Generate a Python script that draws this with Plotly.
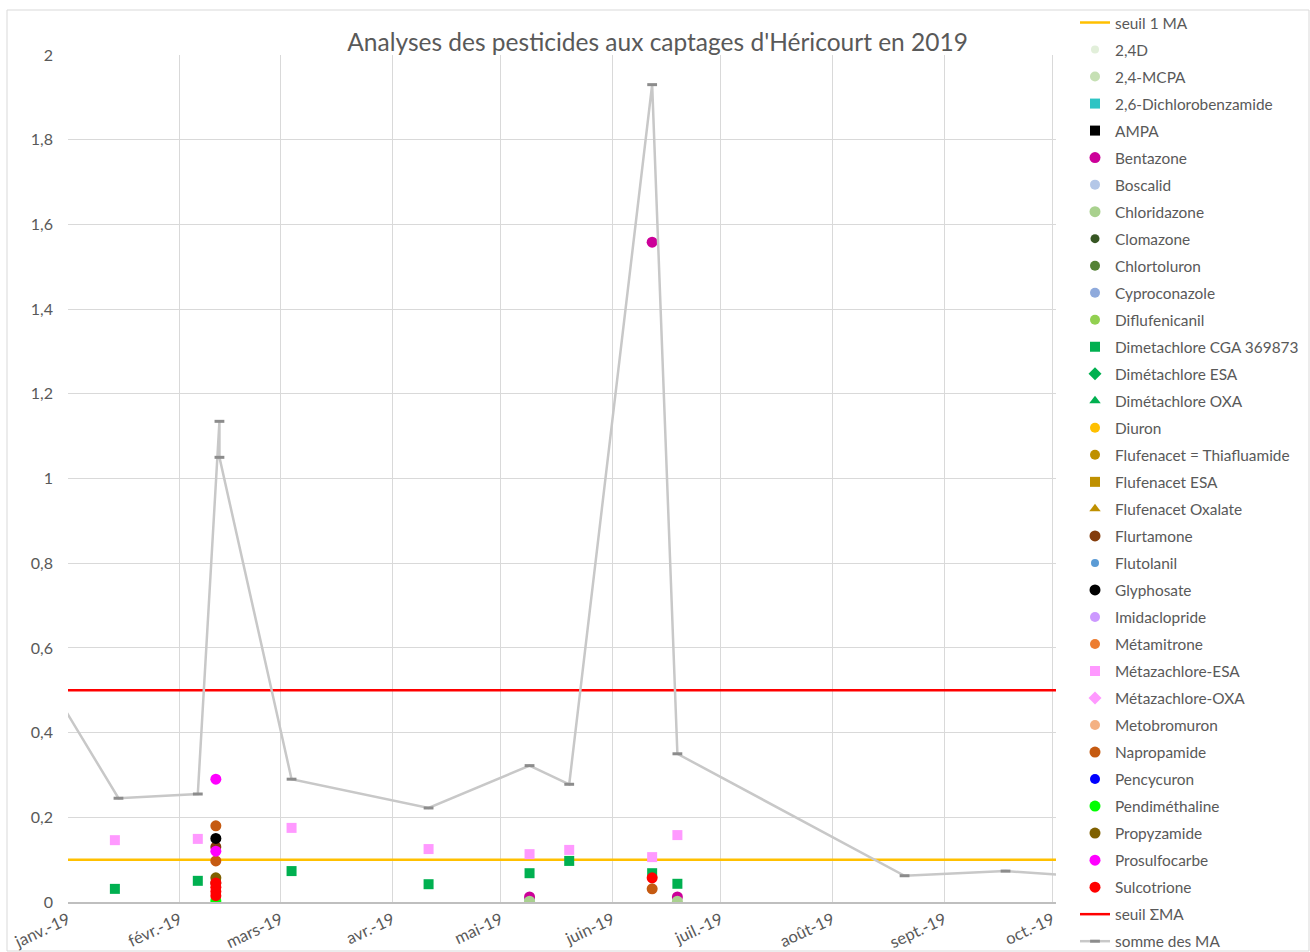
import plotly.graph_objects as go

# ---------------- data ----------------
month_ticks = ["2019-01-01", "2019-02-01", "2019-03-01", "2019-04-01", "2019-05-01",
               "2019-06-01", "2019-07-01", "2019-08-01", "2019-09-01", "2019-10-01"]
month_labels = ["janv.-19", "févr.-19", "mars-19", "avr.-19", "mai-19",
                "juin-19", "juil.-19", "août-19", "sept.-19", "oct.-19"]
x_range = ["2019-01-01", "2019-10-02"]

seuil_1ma = 0.1
seuil_sigma = 0.5

sum_dates = ["2018-12-18", "2019-01-15", "2019-02-06", "2019-02-12", "2019-02-12",
             "2019-03-04", "2019-04-11", "2019-05-09", "2019-05-20", "2019-06-12",
             "2019-06-19", "2019-08-21", "2019-09-18", "2019-10-15"]
sum_values = [0.64, 0.245, 0.255, 1.135, 1.05, 0.29, 0.222, 0.322, 0.278, 1.93,
              0.35, 0.062, 0.073, 0.057]

bentazone_dates = ["2019-05-09", "2019-06-12", "2019-06-19"]
bentazone_values = [0.012, 1.558, 0.012]

chloridazone_dates = ["2019-05-09", "2019-06-19"]
chloridazone_values = [0.002, 0.002]

dichlorobenzamide_dates = ["2019-05-09"]
dichlorobenzamide_values = [0.0]

dimetachlore_cga_dates = ["2019-01-14", "2019-02-06", "2019-03-04", "2019-04-11",
                          "2019-05-09", "2019-05-20", "2019-06-12", "2019-06-19"]
dimetachlore_cga_values = [0.031, 0.05, 0.073, 0.042, 0.068, 0.097, 0.068, 0.043]

metazachlore_esa_dates = ["2019-01-14", "2019-02-06", "2019-03-04", "2019-04-11",
                          "2019-05-09", "2019-05-20", "2019-06-12", "2019-06-19"]
metazachlore_esa_values = [0.146, 0.149, 0.175, 0.125, 0.113, 0.123, 0.106, 0.158]

flurtamone_dates = ["2019-02-11", "2019-02-11"]
flurtamone_values = [0.13, 0.045]

glyphosate_dates = ["2019-02-11"]
glyphosate_values = [0.15]

napropamide_dates = ["2019-02-11", "2019-02-11", "2019-06-12"]
napropamide_values = [0.18, 0.097, 0.031]

pendimethaline_dates = ["2019-02-11"]
pendimethaline_values = [0.003]

propyzamide_dates = ["2019-02-11"]
propyzamide_values = [0.057]

prosulfocarbe_dates = ["2019-02-11", "2019-02-11"]
prosulfocarbe_values = [0.29, 0.12]

sulcotrione_dates = ["2019-02-11", "2019-02-11", "2019-02-11", "2019-02-11", "2019-06-12"]
sulcotrione_values = [0.045, 0.035, 0.025, 0.015, 0.057]

# substance legend: name, colour, symbol, size, dates, values
substances = [
    ("2,4D", "#E2EFDA", "circle", 8, [], []),
    ("2,4-MCPA", "#C6E0B4", "circle", 10, [], []),
    ("2,6-Dichlorobenzamide", "#2EC4C4", "square", 10, dichlorobenzamide_dates, dichlorobenzamide_values),
    ("AMPA", "#000000", "square", 10, [], []),
    ("Bentazone", "#CC0099", "circle", 11, bentazone_dates, bentazone_values),
    ("Boscalid", "#B4C7E7", "circle", 10, [], []),
    ("Chloridazone", "#A9D18E", "circle", 11, chloridazone_dates, chloridazone_values),
    ("Clomazone", "#375623", "circle", 9, [], []),
    ("Chlortoluron", "#548235", "circle", 10, [], []),
    ("Cyproconazole", "#8FAADC", "circle", 10, [], []),
    ("Diflufenicanil", "#92D050", "circle", 10, [], []),
    ("Dimetachlore CGA 369873", "#00B050", "square", 10, dimetachlore_cga_dates, dimetachlore_cga_values),
    ("Dimétachlore ESA", "#00B050", "diamond", 10, [], []),
    ("Dimétachlore OXA", "#00B050", "triangle-up", 10, [], []),
    ("Diuron", "#FFC000", "circle", 10, [], []),
    ("Flufenacet = Thiafluamide", "#BF9000", "circle", 10, [], []),
    ("Flufenacet ESA", "#BF9000", "square", 10, [], []),
    ("Flufenacet Oxalate", "#BF9000", "triangle-up", 10, [], []),
    ("Flurtamone", "#843C0C", "circle", 11, flurtamone_dates, flurtamone_values),
    ("Flutolanil", "#5B9BD5", "circle", 8, [], []),
    ("Glyphosate", "#000000", "circle", 11, glyphosate_dates, glyphosate_values),
    ("Imidaclopride", "#CC99FF", "circle", 10, [], []),
    ("Métamitrone", "#ED7D31", "circle", 10, [], []),
    ("Métazachlore-ESA", "#FF99FF", "square", 10, metazachlore_esa_dates, metazachlore_esa_values),
    ("Métazachlore-OXA", "#FF99FF", "diamond", 10, [], []),
    ("Metobromuron", "#F4B183", "circle", 10, [], []),
    ("Napropamide", "#C55A11", "circle", 11, napropamide_dates, napropamide_values),
    ("Pencycuron", "#0000FF", "circle", 10, [], []),
    ("Pendiméthaline", "#00FF00", "circle", 11, pendimethaline_dates, pendimethaline_values),
    ("Propyzamide", "#7F6000", "circle", 11, propyzamide_dates, propyzamide_values),
    ("Prosulfocarbe", "#FF00FF", "circle", 11, prosulfocarbe_dates, prosulfocarbe_values),
    ("Sulcotrione", "#FF0000", "circle", 11, sulcotrione_dates, sulcotrione_values),
]

FONT = "Lato"
GRAY_TXT = "#595959"

fig = go.Figure()

fig.add_trace(go.Scatter(
    x=x_range, y=[seuil_1ma, seuil_1ma], mode="lines", name="seuil 1 MA",
    legendgroup="seuil 1 MA", line=dict(color="#FFC000", width=2.5), hoverinfo="skip"))

for name, color, symbol, size, dates, values in substances:
    xs = dates if dates else [x_range[0]]
    ys = values if values else [None]
    fig.add_trace(go.Scatter(
        x=xs, y=ys, mode="markers", name=name, legendgroup=name,
        marker=dict(color=color, symbol=symbol, size=size, line=dict(width=0))))

fig.add_trace(go.Scatter(
    x=x_range, y=[seuil_sigma, seuil_sigma], mode="lines", name="seuil ΣMA",
    legendgroup="seuil ΣMA", line=dict(color="#FF0000", width=2.5), hoverinfo="skip"))

fig.add_trace(go.Scatter(
    x=sum_dates, y=sum_values, mode="lines+markers", name="somme des MA",
    legendgroup="somme des MA", line=dict(color="#C8C8C8", width=2.5),
    marker=dict(symbol="line-ew", size=7, line=dict(color="#8C8C8C", width=3))))

plot_l, plot_r, plot_t, plot_b = 68, 1056, 55, 902
W, H = 1310, 952
pw, ph = plot_r - plot_l, plot_b - plot_t

fig.update_layout(
    width=W, height=H,
    margin=dict(l=plot_l, r=W - plot_r, t=plot_t, b=H - plot_b, pad=0, autoexpand=False),
    paper_bgcolor="white", plot_bgcolor="white",
    separators=", ",
    font=dict(family=FONT, color=GRAY_TXT, size=16),
    title=dict(text="Analyses des pesticides aux captages d'Héricourt en 2019",
               x=0.502, xanchor="center", xref="container",
               y=1 - 42 / H, yanchor="middle", yref="container",
               font=dict(family=FONT, size=24.5, color=GRAY_TXT)),
    xaxis=dict(type="date", range=x_range, tickmode="array",
               tickvals=month_ticks, ticktext=month_labels, tickangle=-25,
               showgrid=True, gridcolor="#D9D9D9", gridwidth=1,
               showline=True, linecolor="#BFBFBF", linewidth=2,
               ticks="", zeroline=False, automargin=False,
               tickfont=dict(family=FONT, size=16.5, color=GRAY_TXT)),
    yaxis=dict(range=[0, 2], dtick=0.2, tick0=0, showgrid=True, gridcolor="#D9D9D9",
               gridwidth=1, zeroline=False, showline=False, ticks="",
               ticklabelstandoff=14, automargin=False,
               tickfont=dict(family=FONT, size=16, color=GRAY_TXT)),
    legend=dict(x=1075 / W, xref="container", xanchor="left",
                y=1 - 6 / H, yref="container", yanchor="top",
                font=dict(family=FONT, size=15.4, color=GRAY_TXT),
                tracegroupgap=4, itemsizing="trace", bgcolor="rgba(0,0,0,0)",
                borderwidth=0, traceorder="grouped", maxheight=H),
    showlegend=True,
    shapes=[dict(type="rect", xref="paper", yref="paper",
                 x0=(7 - plot_l) / pw, x1=(1309 - plot_l) / pw,
                 y0=(plot_b - 951) / ph, y1=(plot_b - 10) / ph,
                 line=dict(color="#D9D9D9", width=1), fillcolor="rgba(0,0,0,0)",
                 layer="below")],
)

fig.write_html("out.html", config={"displayModeBar": False},
               post_script="document.body.style.margin='0px';document.body.style.padding='0px';")
